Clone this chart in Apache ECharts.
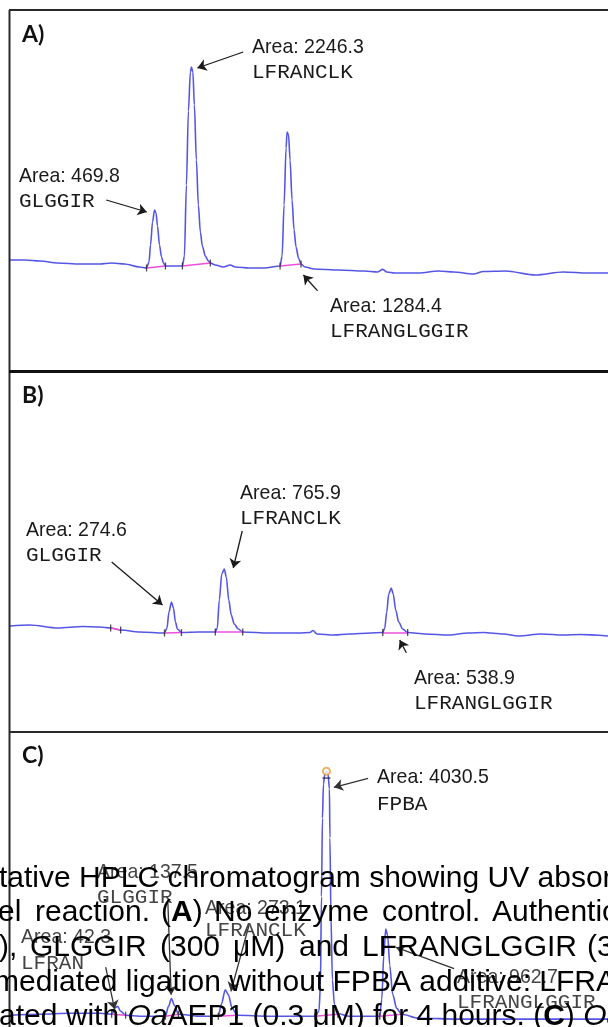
<!DOCTYPE html>
<html><head><meta charset="utf-8">
<script src="https://cdn.jsdelivr.net/npm/echarts@6/dist/echarts.min.js"></script>
<style>html,body{margin:0;padding:0;background:#fff}#c{width:608px;height:1027px}</style>
</head><body><div id="c"></div>
<script>
// ---------- DATA (retention time, absorbance) ----------
const traceA = [[0,5],[1.5,5],[3,4.5],[4.8,3.5],[7,3],[9,3],[10.2,3.5],[11.5,3],[13,1.5],[13.7,1],[13.95,4],[14.1,12.5],[14.3,24],[14.5,30],[14.65,28.5],[14.8,22],[15,12.5],[15.2,6.5],[15.4,3.5],[15.6,2],[16.5,2],[17.3,2],[17.5,7],[17.7,42.5],[17.9,79.5],[18.1,99],[18.2,101.5],[18.35,99],[18.5,82.5],[18.7,55],[18.9,32.5],[19.1,19],[19.3,12],[19.6,7],[19.9,4.5],[20.1,3.5],[20.6,2.5],[21.4,1.5],[22.1,2.5],[22.6,1.5],[24,1],[25.5,1],[27.1,2],[27.3,7],[27.5,32.5],[27.7,61],[27.8,69],[27.95,67.5],[28.1,55],[28.3,35],[28.5,20],[28.7,11.5],[28.95,6],[29.2,3],[29.6,1.5],[30.5,0.5],[33,0],[35.5,-0.5],[36.9,-1],[37.4,0.3],[37.8,-1],[38.6,-1.5],[41,-1.5],[43,-0.5],[44.5,-1],[46.5,-2],[47.5,-0.75],[49.7,-0.5],[52.7,-2.5],[55.5,-1],[58,-1.5],[60,-1.5]];
const ticksA = [[13.7,1],[15.6,2],[17.3,2],[20.1,3.5],[27.1,2],[29.2,3]];
const integA = [[[13.7,1],[15.6,2]],[[17.3,2],[20.1,3.5]],[[27.1,2],[29.2,3]]];
const arrowsA = [[[23.4,109],[18.8,101]],[[9.66,35],[13.73,29]],[[31.5,-14],[29.44,-2.5]]];
const areasA = ['2246.3','469.8','1284.4'];
const namesA = ['LFRANCLK','GLGGIR','LFRANGLGGIR'];

const traceB = [[0,3],[2,3.5],[4.8,2],[7.3,2.75],[9,2.5],[10.1,2],[11.1,1],[13,0],[15.5,-0.5],[15.75,2],[15.95,10],[16.2,15],[16.4,12],[16.6,5],[16.8,1.5],[17.2,-0.25],[19,0],[20.6,0],[20.8,2],[21,16],[21.25,29],[21.5,31.5],[21.7,27.5],[21.95,16],[22.2,8.5],[22.5,4],[22.9,1.5],[23.35,0],[26,-0.5],[29,-0.5],[30.1,-0.25],[30.4,0.75],[30.8,-1],[32.5,-1.5],[34,-1],[37.4,-0.25],[37.6,2],[37.8,10],[38,19],[38.25,22],[38.45,19],[38.7,11],[39,5],[39.4,1.5],[39.9,-0.25],[41.7,-1],[44,-1.5],[46,-0.5],[47.5,-0.25],[49.5,-1],[51,-2],[53.3,-1],[55.5,-1.5],[57.2,-1.25],[60,-2]];
const ticksB = [[10.1,2],[11.1,1],[15.5,-0.5],[17.2,-0.25],[20.6,0],[23.35,0],[37.4,-0.25],[39.9,-0.25]];
const integB = [[[10.1,2],[11.1,1]],[[15.5,-0.5],[17.2,-0.25]],[[20.6,0],[23.35,0]],[[37.4,-0.25],[39.9,-0.25]]];
const arrowsB = [[[10.2,35],[15.3,13.5]],[[23.3,50.5],[22.4,32]],[[40.3,-15.5],[39.1,-4]]];
const areasB = ['274.6','765.9','538.9'];
const namesB = ['GLGGIR','LFRANCLK','LFRANGLGGIR'];

const traceC = [[0,1],[3,1.5],[6,2],[9,2],[10.2,1.5],[10.6,5],[10.8,5.5],[11.1,3],[11.6,1],[13,0.5],[15.6,0.5],[15.9,5.5],[16.2,9.5],[16.5,6],[16.9,1.5],[19,0.5],[20.9,0.5],[21.2,6.5],[21.6,14],[21.9,11.5],[22.3,4.5],[22.8,1],[26,0.5],[29,0.5],[30.6,0.5],[31,3],[31.15,16.5],[31.25,61.5],[31.35,101.5],[31.45,119],[31.6,124.5],[31.75,125.5],[31.9,124.5],[32.05,116.5],[32.1,91.5],[32.2,51.5],[32.35,19],[32.55,6.5],[32.8,2],[34,0.5],[36.5,0.5],[37.1,0.5],[37.3,9],[37.5,31.5],[37.7,45],[37.9,41.5],[38.1,26.5],[38.4,11.5],[38.8,4.5],[39.3,1.5],[41,-0.5],[45,-1],[49,-1],[55,-1],[60,-1]];
const ticksC = [[10.2,1.5],[11.6,1],[15.6,0.5],[16.9,1.5],[20.9,0.5],[22.8,1],[30.6,0.5],[32.9,1.5],[37.1,0.5],[39.3,1.5]];
const integC = [[[10.2,1.5],[11.6,1]],[[15.6,0.5],[16.9,1.5]],[[20.9,0.5],[22.8,1]],[[30.6,0.5],[32.9,1.5]],[[37.1,0.5],[39.3,1.5]]];
const arrowsC = [[[35.93,121.8],[32.5,117.3]],[[44.56,24.8],[38.74,35.6]],[[9.6,25.6],[10.5,4]],[[15.83,59.8],[16.17,11.5]],[[24,47.3],[22.17,13.2]]];
const apexC = [[31.75,125.5]];
const apexBarC = [[31.75,122]];
const areasC = ['4030.5','962.7','42.3','137.5','273.1'];
const namesC = ['FPBA','LFRANGLGGIR','LFRAN','GLGGIR','LFRANCLK'];

const panelLetters = ['A)','B)','C)'];
const captionWords = [
  ['tative HPLC chromatogram showing UV absor'],
  ['el','reaction.','({b|A})','No','enzyme','control.','Authentic'],
  ['),','GLGGIR','(300','μM)','and','LFRANGLGGIR','(3'],
  ['mediated ligation without FPBA additive: LFRAN'],
  ['ated with {i|Oa}AEP1 (0.3 μM) for 4 hours. ({b|C}) {i|Oa}']
];

// ---------- LAYOUT ----------
const captionX = [
  [-1],
  [-2,35,161,214,264,382,492],
  [-1,30,160,233,299,362,587],
  [-6],
  [-1]
];
const captionY = [879,913,948,983,1017];
const labelPosA = [[252,47.5],[19,176.5],[330,306.5]];
const labelPosB = [[26,530],[240,493.5],[414,678.5]];
const labelPosC = [[377,777],[457,977],[21,937],[97,872],[205,908]];
const labelGapC = [27,25,26,25,22];

const chart = echarts.init(document.getElementById('c'), null, {renderer:'canvas'});
const BLUE = '#5656e6', MAG = '#ee50dd';
const grids = [
  {left:10, top:10, width:600, height:280},
  {left:10, top:372, width:600, height:280},
  {left:10, top:733, width:600, height:300}
];
const yr = [[-10,130],[-10,130],[-5,145]];
const xAxis = grids.map((g,i)=>({type:'value', gridIndex:i, min:0, max:60, show:false}));
const yAxis = grids.map((g,i)=>({type:'value', gridIndex:i, min:yr[i][0], max:yr[i][1], show:false}));

const panels = [
  {trace:traceA, ticks:ticksA, integ:integA, arrows:arrowsA},
  {trace:traceB, ticks:ticksB, integ:integB, arrows:arrowsB},
  {trace:traceC, ticks:ticksC, integ:integC, arrows:arrowsC}
];
const series = [];
panels.forEach((p,i)=>{
  series.push({type:'line', xAxisIndex:i, yAxisIndex:i, data:p.trace, showSymbol:false, symbol:'none',
    smooth:0.3, smoothMonotone:'x', lineStyle:{color:BLUE, width:1.6}, z:3, silent:true});
  series.push({type:'lines', coordinateSystem:'cartesian2d', xAxisIndex:i, yAxisIndex:i,
    data:p.integ.map(c=>({coords:c})), symbol:['none','none'], lineStyle:{color:MAG, width:1.6, opacity:1}, z:4});
  series.push({type:'scatter', xAxisIndex:i, yAxisIndex:i, data:p.ticks, symbol:'rect', symbolSize:[1.3,7],
    itemStyle:{color:'#222'}, z:5, silent:true});
  series.push({type:'lines', coordinateSystem:'cartesian2d', xAxisIndex:i, yAxisIndex:i,
    data:p.arrows.map(c=>({coords:c})), symbol:['none','arrow'], symbolSize:9,
    lineStyle:{color:i===2?'#333':'#1a1a1a', width:1.3, opacity:1}, z:6});
});
series.push({type:'scatter', xAxisIndex:2, yAxisIndex:2, data:apexC, symbol:'emptyCircle', symbolSize:7,
  itemStyle:{color:'#e8a040', borderColor:'#e8a040', borderWidth:1.2}, z:7, silent:true});
series.push({type:'scatter', xAxisIndex:2, yAxisIndex:2, data:apexBarC, symbol:'rect', symbolSize:[8,1.4],
  itemStyle:{color:'#222'}, z:7, silent:true});

const SANS = '"Liberation Sans", Arial, Helvetica, sans-serif';
const MONO = '"Liberation Mono", "Courier New", monospace';
const graphic = [];
function txt(x,y,text,font,fill,sx,z,rich){
  const el = {type:'text', x:x, y:y, scaleX:sx||1, z:z||10, silent:true,
    style:{x:0,y:0,text:text,font:font,fill:fill,align:'left',verticalAlign:'middle',textAlign:'left',textVerticalAlign:'middle'}};
  if(rich) el.style.rich = rich;
  graphic.push(el);
}
// panel frame
graphic.push({type:'line', shape:{x1:9.5,y1:10,x2:9.5,y2:1027}, style:{stroke:'#2a2a2a', lineWidth:2}, z:20});
graphic.push({type:'line', shape:{x1:9,y1:10,x2:608,y2:10}, style:{stroke:'#2a2a2a', lineWidth:2}, z:20});
graphic.push({type:'line', shape:{x1:9,y1:371.5,x2:608,y2:371.5}, style:{stroke:'#111', lineWidth:3}, z:20});
graphic.push({type:'line', shape:{x1:9,y1:732,x2:608,y2:732}, style:{stroke:'#2a2a2a', lineWidth:2}, z:20});
// panel letters
[[22,35],[22,396],[22,756]].forEach((p,i)=>txt(p[0],p[1],panelLetters[i],'bold 23px Lato, "Open Sans", sans-serif','#111',1,20));
// annotations
function labels(pos, areas, names, fill, gaps){
  pos.forEach((p,i)=>{
    txt(p[0],p[1],'Area: '+areas[i],'21px '+SANS,fill,0.93,10);
    txt(p[0],p[1]+(gaps?gaps[i]:25),names[i],'21px '+MONO,fill,1,10);
  });
}
labels(labelPosA, areasA, namesA, '#1a1a1a');
labels(labelPosB, areasB, namesB, '#1a1a1a');
labels(labelPosC.slice(0,1), areasC.slice(0,1), namesC.slice(0,1), '#1a1a1a', labelGapC);
labels(labelPosC.slice(1), areasC.slice(1), namesC.slice(1), '#444', labelGapC.slice(1));
// caption overlay
const CAPF = '30px ' + SANS;
const capRich = {b:{font:'bold 30px '+SANS, fill:'#000'}, i:{font:'italic 30px '+SANS, fill:'#000'}};
captionWords.forEach((line,li)=>{
  line.forEach((w,wi)=>{
    txt(captionX[li][wi], captionY[li], w, CAPF, '#000', 1, 50, capRich);
  });
});

chart.setOption({
  animation:false,
  backgroundColor:'#fff',
  grid:grids,
  xAxis:xAxis,
  yAxis:yAxis,
  series:series,
  graphic:graphic
});
</script>
</body></html>
